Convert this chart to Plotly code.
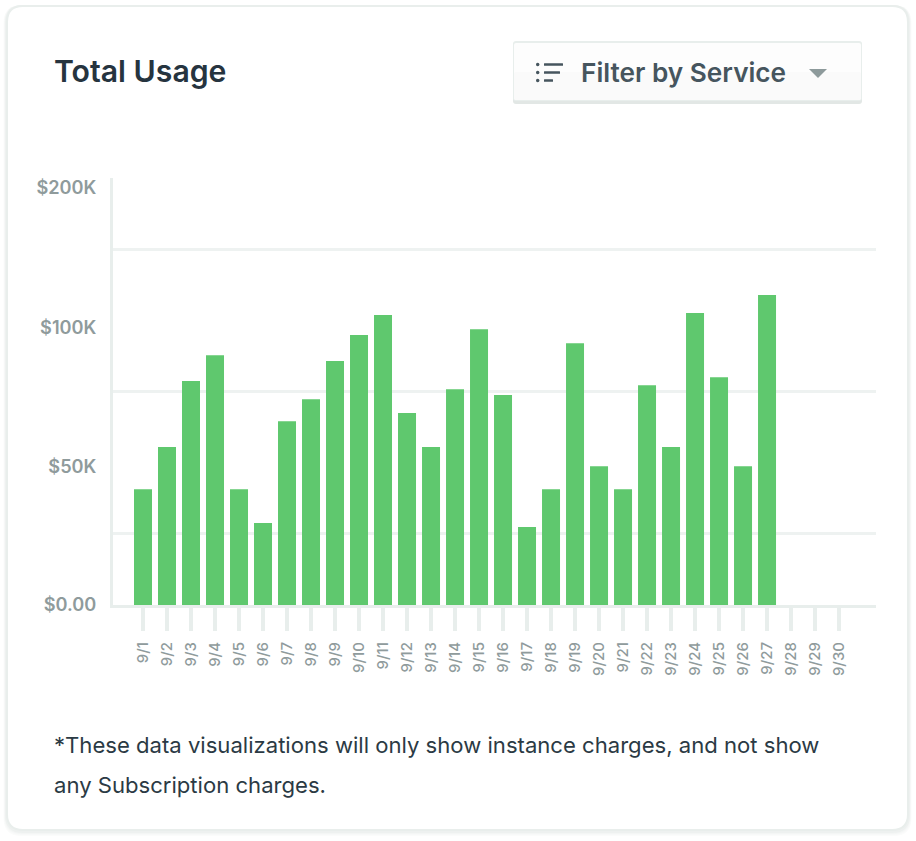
import plotly.graph_objects as go

days = [f"9/{d}" for d in range(1, 31)]
usage_k = [41.6, 56.7, 80.4, 89.7, 41.6, 29.4, 66.0, 73.9, 87.6, 96.9, 104.1, 68.9, 56.7,
           77.5, 99.0, 75.4, 28.0, 41.6, 94.0, 49.8, 41.6, 78.9, 56.7, 104.8, 81.8, 49.8, 111.3,
           None, None, None]
axis_ticks = [0, 49.6, 99.7, 150]
axis_labels = ["$0.00", "$50K", "$100K", "$200K"]
grid_values = [25.8, 76.8, 127.8]

W, H = 916, 841
FONT = "Inter"
LINE = "#e8eeec"


def px(x):
    return x / W


def py(y):
    return 1 - y / H


def round_rect(x0, y0, x1, y1, r):
    X0, X1, Y0, Y1 = px(x0), px(x1), py(y0), py(y1)
    rx, ry = r / W, r / H
    return (f"M{X0+rx},{Y0} L{X1-rx},{Y0} Q{X1},{Y0} {X1},{Y0-ry} L{X1},{Y1+ry} Q{X1},{Y1} {X1-rx},{Y1} "
            f"L{X0+rx},{Y1} Q{X0},{Y1} {X0},{Y1+ry} L{X0},{Y0-ry} Q{X0},{Y0} {X0+rx},{Y0} Z")


shapes = []


def add_path(path, fill, line=None, lw=0):
    shapes.append(dict(type="path", xref="paper", yref="paper", path=path, fillcolor=fill,
                       line=dict(color=line or fill, width=lw), layer="below"))


# card with soft shadow
for grow, col in [(5, "#fbfcfb"), (4, "#f8f9f9"), (3, "#f4f6f5"), (2, "#eef1f0")]:
    add_path(round_rect(6 - grow / 2, 5, 909 + grow / 2, 831 + grow, 18), col)
add_path(round_rect(6, 5, 909, 831, 17), "#e9eeec")
add_path(round_rect(8, 7, 907, 829, 15), "#ffffff")

# filter button
add_path(round_rect(513, 42, 862, 104, 3), "#e2e7e5")
add_path(round_rect(513, 41, 862, 101, 3), "#e8eeec")
add_path(round_rect(514, 43, 861, 100, 2), "#fdfdfd")
add_path(round_rect(514, 72, 861, 100, 2), "#fafafa")

# filter icon
icon = "#46555e"
for yc, x_end in [(64.5, 563), (72.5, 560), (80.5, 553)]:
    add_path(round_rect(544, yc - 1.3, x_end, yc + 1.3, 0.2), icon)
    add_path(round_rect(536, yc - 1.7, 539.4, yc + 1.7, 1.6), icon)

# dropdown caret
add_path(f"M{px(809)},{py(69)} L{px(827)},{py(69)} L{px(818)},{py(78)} Z", "#8d9a9b")

fig = go.Figure(go.Bar(x=days, y=usage_k, marker=dict(color="#5fc86e", line_width=0), width=0.75))


def text(x, y, s, size, color, weight=400, anchor="left"):
    return dict(xref="paper", yref="paper", x=px(x), y=py(y), text=s, showarrow=False,
                xanchor=anchor, yanchor="middle", align="left", borderpad=0, borderwidth=0,
                font=dict(family=FONT, size=size, color=color, weight=weight))


annotations = [
    text(54, 71, "Total Usage", 30.2, "#26343f", 600),
    text(581, 73, "Filter by Service", 26.2, "#46555e", 600),
    text(54, 745, "*These data visualizations will only show instance charges, and not show", 22.1, "#2b3a44"),
    text(54, 785, "any Subscription charges.", 22.1, "#2b3a44"),
]

fig.update_layout(
    width=W, height=H, margin=dict(l=0, r=0, t=0, b=0, pad=0, autoexpand=False), autosize=False,
    paper_bgcolor="#ffffff", plot_bgcolor="rgba(0,0,0,0)", showlegend=False,
    shapes=shapes, annotations=annotations, bargap=0.25,
    font=dict(family=FONT),
)
fig.update_xaxes(
    type="category", categoryorder="array", categoryarray=days,
    domain=[px(113), px(876)], range=[-1.25, 30.54], automargin=False,
    showline=True, linecolor=LINE, linewidth=3, showgrid=False, zeroline=False,
    ticks="outside", ticklen=23, tickwidth=4, tickcolor=LINE,
    tickangle=-90, tickfont=dict(size=15, color="#8f9b9c", weight=500), ticklabelstandoff=5,
    tickmode="array", tickvals=days, ticktext=days,
)
fig.update_yaxes(
    domain=[py(605), py(178)], range=[0, 153.3], automargin=False,
    showline=True, linecolor=LINE, linewidth=3, zeroline=False, showgrid=False,
    tickmode="array", tickvals=axis_ticks, ticktext=axis_labels,
    ticks="", tickfont=dict(size=18.2, color="#8f9b9c", weight=600), ticklabelstandoff=10,
    minor=dict(tickmode="array", tickvals=grid_values, showgrid=True, gridcolor="#eef2f1", gridwidth=2.5, ticks=""),
)

fig.write_html("out.html", config=dict(displayModeBar=False),
               post_script="document.body.style.margin='0';document.body.style.overflow='hidden';")
